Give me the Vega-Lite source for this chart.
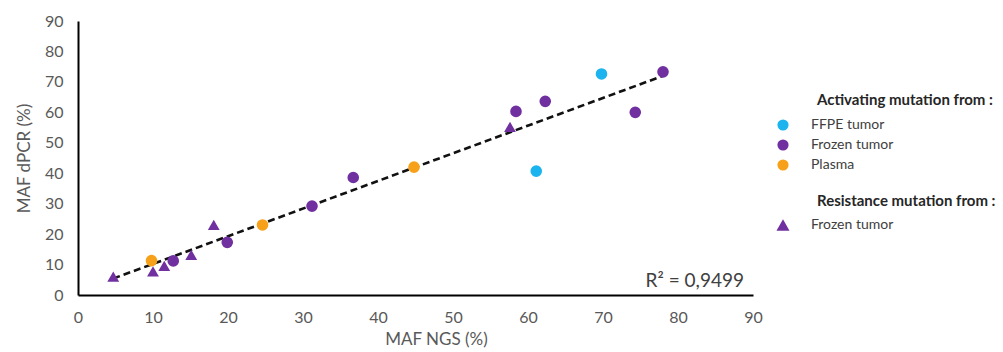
{
  "$schema": "https://vega.github.io/schema/vega-lite/v6.json",
  "width": 675,
  "height": 274,
  "autosize": {"type": "none"},
  "padding": {"left": 78, "top": 21, "right": 250, "bottom": 57},
  "background": "white",
  "config": {
    "view": {"stroke": null},
    "font": "Lato",
    "axis": {"grid": false, "ticks": false, "labelOverlap": false, "domainColor": "#000000", "domainWidth": 2, "labelColor": "#595959", "labelFontSize": 16, "labelFont": "Lato", "titleColor": "#595959", "titleFontSize": 17, "titleFontWeight": "normal", "titleFont": "Lato"},
    "legend": {"titleFont": "Lato", "labelFont": "Lato", "titleFontSize": 15, "titleFontWeight": "bold", "titleColor": "#262626", "labelFontSize": 14, "labelColor": "#404040"}
  },
  "datasets": {
    "pts": [
      {"ngs": 4.7, "dpcr": 6.0, "type": "Resistance", "source": "Frozen tumor"},
      {"ngs": 9.8, "dpcr": 11.3, "type": "Activating", "source": "Plasma"},
      {"ngs": 10.0, "dpcr": 7.8, "type": "Resistance", "source": "Frozen tumor"},
      {"ngs": 11.5, "dpcr": 9.6, "type": "Resistance", "source": "Frozen tumor"},
      {"ngs": 12.7, "dpcr": 11.2, "type": "Activating", "source": "Frozen tumor"},
      {"ngs": 15.1, "dpcr": 13.2, "type": "Resistance", "source": "Frozen tumor"},
      {"ngs": 18.1, "dpcr": 23.0, "type": "Resistance", "source": "Frozen tumor"},
      {"ngs": 19.9, "dpcr": 17.3, "type": "Activating", "source": "Frozen tumor"},
      {"ngs": 24.6, "dpcr": 23.0, "type": "Activating", "source": "Plasma"},
      {"ngs": 31.2, "dpcr": 29.2, "type": "Activating", "source": "Frozen tumor"},
      {"ngs": 36.7, "dpcr": 38.6, "type": "Activating", "source": "Frozen tumor"},
      {"ngs": 44.8, "dpcr": 42.0, "type": "Activating", "source": "Plasma"},
      {"ngs": 57.6, "dpcr": 55.2, "type": "Resistance", "source": "Frozen tumor"},
      {"ngs": 58.4, "dpcr": 60.3, "type": "Activating", "source": "Frozen tumor"},
      {"ngs": 62.3, "dpcr": 63.6, "type": "Activating", "source": "Frozen tumor"},
      {"ngs": 61.1, "dpcr": 40.7, "type": "Activating", "source": "FFPE tumor"},
      {"ngs": 69.8, "dpcr": 72.6, "type": "Activating", "source": "FFPE tumor"},
      {"ngs": 74.3, "dpcr": 60.0, "type": "Activating", "source": "Frozen tumor"},
      {"ngs": 78.0, "dpcr": 73.3, "type": "Activating", "source": "Frozen tumor"}
    ],
    "note": [{"ngs": 88.8, "dpcr": 4.6, "label": "R² = 0,9499"}]
  },
  "encoding": {
    "x": {"field": "ngs", "type": "quantitative", "scale": {"domain": [0, 90], "nice": false, "zero": true}, "axis": {"values": [0, 10, 20, 30, 40, 50, 60, 70, 80, 90], "tickCount": 10, "labelOverlap": false, "labelBound": false, "labelFlush": false, "title": "MAF NGS (%)", "labelPadding": 14, "titlePadding": 6, "titleX": 358}},
    "y": {"field": "dpcr", "type": "quantitative", "scale": {"domain": [0, 90], "nice": false}, "axis": {"values": [0, 10, 20, 30, 40, 50, 60, 70, 80, 90], "tickCount": 10, "labelOverlap": false, "labelBound": false, "labelFlush": false, "title": "MAF dPCR (%)", "labelPadding": 15, "titlePadding": 11}}
  },
  "layer": [
    {
      "data": {"name": "pts"},
      "transform": [{"regression": "dpcr", "on": "ngs"}],
      "mark": {"type": "line", "color": "#111111", "strokeWidth": 2.6, "strokeDash": [7, 4]}
    },
    {
      "data": {"name": "pts"},
      "transform": [{"filter": "datum.type === 'Activating'"}],
      "mark": {"type": "point", "filled": true, "shape": "circle", "size": 135, "opacity": 1},
      "encoding": {
        "color": {"field": "source", "type": "nominal", "scale": {"domain": ["FFPE tumor", "Frozen tumor", "Plasma"], "range": ["#1BB4EE", "#7030A0", "#F7A11A"]},
          "legend": {"title": "Activating mutation from :", "orient": "none", "legendX": 739, "legendY": 72, "symbolType": "circle", "symbolSize": 125, "symbolOffset": -41, "labelOffset": 21, "titlePadding": 10, "rowPadding": 6, "symbolStrokeWidth": 0}}
      }
    },
    {
      "data": {"name": "pts"},
      "transform": [{"filter": "datum.type === 'Resistance'"}],
      "mark": {"type": "point", "filled": true, "color": "#7030A0", "size": 140, "opacity": 1},
      "encoding": {
        "shape": {"field": "source", "type": "nominal", "scale": {"domain": ["Frozen tumor"], "range": ["triangle-up"]},
          "legend": {"title": "Resistance mutation from :", "orient": "none", "legendX": 739, "legendY": 173, "symbolSize": 170, "symbolFillColor": "#7030A0", "symbolStrokeColor": "#7030A0", "symbolStrokeWidth": 0, "symbolOffset": -41, "labelOffset": 21, "titlePadding": 9}}
      }
    },
    {
      "data": {"name": "note"},
      "mark": {"type": "text", "align": "right", "baseline": "middle", "fontSize": 19, "color": "#404040", "font": "Lato"},
      "encoding": {
        "text": {"field": "label"}
      }
    }
  ]
}
